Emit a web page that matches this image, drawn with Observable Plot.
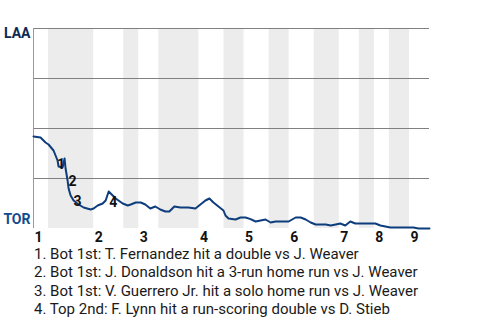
<!DOCTYPE html>
<html>
<head>
<meta charset="utf-8">
<script src="https://cdn.jsdelivr.net/npm/d3@7"></script>
<script src="https://cdn.jsdelivr.net/npm/@observablehq/plot@0.6"></script>
<style>
  body { margin: 0; background: #fff; font-family: Roboto, sans-serif; }
  #caption { font-family: Roboto, sans-serif; font-size: 15px; line-height: 18.3px; color: #1a1a1a; padding-left: 34px; white-space: nowrap; }
</style>
</head>
<body>
<div id="chart"></div>
<div id="caption"></div>
<script>
// play index along x (0..79), LAA win probability along y
const playX = [0,1.4,2.4,3,4,4.8,5,5.8,6.2,6.4,6.8,7,7.4,8,9,10,11.4,12,12.8,13.8,14.4,15,15.4,16.4,17.8,18.8,19.4,20.4,21.4,22.3,23.3,24.3,25.3,26.3,27.1,28.1,29.3,30.9,32.3,33.3,34.3,35.1,35.9,36.9,37.9,38.3,38.9,40.3,41.3,42.3,43.3,44.3,45.3,46.3,47.3,48.3,50.9,52.3,53.3,54.3,55.3,56.3,57.3,58.3,59.3,60.3,61.2,62.2,63.2,64.2,65.2,66.2,68.2,69.2,70.2,71.2,75.8,76.8,77.8,79];
const laaWinProb = [0.46,0.455,0.43,0.42,0.39,0.34,0.31,0.305,0.35,0.30,0.24,0.20,0.165,0.14,0.12,0.105,0.095,0.10,0.115,0.125,0.14,0.185,0.175,0.15,0.125,0.115,0.12,0.13,0.13,0.12,0.10,0.11,0.095,0.085,0.085,0.11,0.105,0.105,0.10,0.12,0.14,0.15,0.13,0.11,0.09,0.065,0.05,0.045,0.055,0.055,0.047,0.035,0.04,0.045,0.03,0.035,0.035,0.055,0.055,0.045,0.03,0.02,0.02,0.02,0.015,0.02,0.025,0.015,0.035,0.025,0.025,0.025,0.025,0.015,0.01,0.005,0.005,0.0,0.0,0.0];

// half-inning boundaries (play index)
const bottomHalfStart = [3,18,25,38,47,56,65,71];
const bottomHalfEnd   = [12,21,33,42,51,61,68,75];
const inningStart = [0,12,21,33,42,51,61,68,75];
const inningLabels = ["1","2","3","4","5","6","7","8","9"];

const gridValues = [1,0.75,0.5,0.25];
const teamLabels = ["LAA","TOR"];
const teamValues = [1,0];
const teamColors = ["#0b2a55","#134A8E"];

const eventLabels = ["1","2","3","4"];
const eventX = [5.5,7.8,8.8,15.9];
const eventY = [0.32,0.235,0.137,0.13];
const captionLines = [
  "1. Bot 1st: T. Fernandez hit a double vs J. Weaver",
  "2. Bot 1st: J. Donaldson hit a 3-run home run vs J. Weaver",
  "3. Bot 1st: V. Guerrero Jr. hit a solo home run vs J. Weaver",
  "4. Top 2nd: F. Lynn hit a run-scoring double vs D. Stieb"
];

const series = playX.map((x, i) => ({x, y: laaWinProb[i]}));
const bands = bottomHalfStart.map((s, i) => ({x1: s, x2: bottomHalfEnd[i]}));
const innings = inningStart.map((x, i) => ({x, label: inningLabels[i]}));
const events = eventLabels.map((t, i) => ({t, x: eventX[i], y: eventY[i]}));

const chart = Plot.plot({
  width: 480,
  height: 245,
  marginTop: 28,
  marginBottom: 17,
  marginLeft: 33,
  marginRight: 51,
  x: {domain: [0, 79], axis: null},
  y: {domain: [0, 1], axis: null},
  style: {fontFamily: "Roboto, sans-serif", background: "#fff", overflow: "visible"},
  marks: [
    Plot.rect(bands, {x1: "x1", x2: "x2", fill: "#ececec"}),
    Plot.ruleY(gridValues, {stroke: "#808080", strokeWidth: 1.2}),
    Plot.ruleX([0], {stroke: "#9a9a9a", strokeWidth: 1}),
    Plot.line(series, {x: "x", y: "y", stroke: "#0d3d7c", strokeWidth: 2, curve: "linear"}),
    Plot.text(events, {x: "x", y: "y", text: "t", fontSize: 14, fontWeight: "bold", fill: "#111", lineAnchor: "middle", textAnchor: "middle"}),
    Plot.text(innings, {x: "x", y: () => 0, text: "label", fontSize: 14, fontWeight: "bold", fill: "#111", textAnchor: "start", lineAnchor: "top", dx: 1, dy: 3.5}),
    Plot.text([teamLabels[0]], {x: () => 0, y: () => teamValues[0], text: d => d, fontSize: 14, fontWeight: "bold", fill: teamColors[0], textAnchor: "end", lineAnchor: "top", dx: -3, dy: 0}),
    Plot.text([teamLabels[1]], {x: () => 0, y: () => teamValues[1], text: d => d, fontSize: 14, fontWeight: "bold", fill: teamColors[1], textAnchor: "end", lineAnchor: "middle", dx: -3, dy: -9})
  ]
});
document.getElementById("chart").appendChild(chart);
const cap = document.getElementById("caption");
captionLines.forEach(t => { const d = document.createElement("div"); d.textContent = t; cap.appendChild(d); });
</script>
</body>
</html>
